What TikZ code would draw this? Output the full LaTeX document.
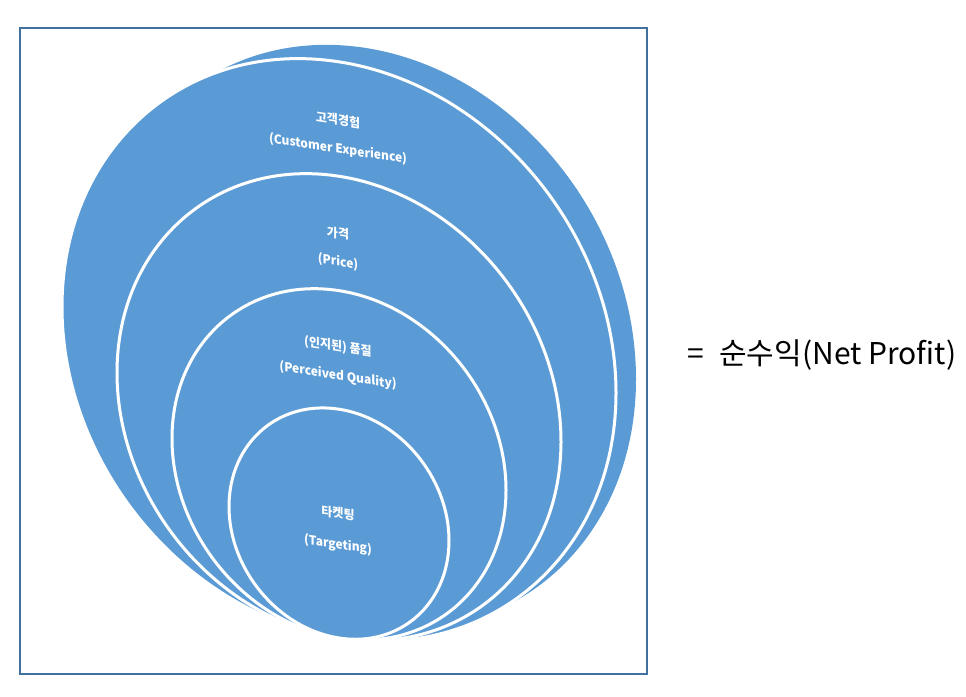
\documentclass[tikz,border=0pt]{standalone}
\usepackage{fontspec}
\setmainfont{Noto Sans CJK KR}
\definecolor{fillblue}{HTML}{5B9BD5}
\definecolor{framec}{HTML}{41719C}
\begin{document}
\begin{tikzpicture}[x=1pt,y=1pt,
  disc/.style={fill=fillblue, draw=white, line width=3pt},
  lbl/.style={text=white, font=\fontsize{12}{14}\selectfont\bfseries, inner sep=0pt, transform shape}]
\useasboundingbox (0,0) rectangle (966,696);
\node[draw=framec, line width=1.3pt, minimum width=627pt, minimum height=646pt, inner sep=0pt] (frame) at (333.5,345) {};
% outermost sliver shape
\begin{scope}[shift={(365.3,70.9)}, cm={1,-0.155,0,1.04,(0,0)}]
  \fill[fillblue] (0,277) ellipse [x radius=270.7, y radius=278];
\end{scope}
% stacked circles (sheared)
\begin{scope}[shift={(339,58)}, cm={1,-0.155,0,1.04,(0,0)}]
  \draw[disc] (0,277) circle [radius=277];
  \draw[disc] (0,222) circle [radius=222];
  \draw[disc] (0,167) circle [radius=167];
  \draw[disc] (0,110) circle [radius=110];
  \node[lbl] (k1) at (-1,498) {고객경험};
  \node[lbl] (e1) at (-1,470) {(Customer Experience)};
  \node[lbl] (k2) at (-1,389) {가격};
  \node[lbl] (e2) at (-1,361.5) {(Price)};
  \node[lbl] (k3) at (-1,280) {(인지된) 품질};
  \node[lbl] (e3) at (-1,252) {(Perceived Quality)};
  \node[lbl] (k4) at (-1,120) {타켓팅};
  \node[lbl] (e4) at (-1,89.4) {(Targeting)};
\end{scope}
\node[font=\fontsize{30}{34}\selectfont, text=black, inner sep=0pt] (np) at (822,341) {=\hspace{0.5em}순수익(Net Profit)};
\end{tikzpicture}
\end{document}
